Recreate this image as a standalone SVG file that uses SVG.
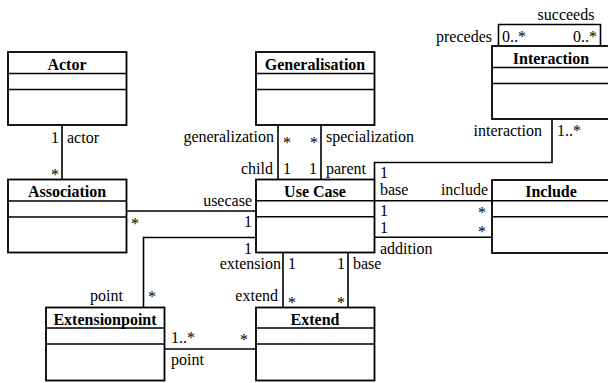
<svg xmlns="http://www.w3.org/2000/svg" width="608" height="383" viewBox="0 0 608 383">
<style>
.box{fill:#fff;stroke:#000;stroke-width:1.8}
.sep{stroke:#000;stroke-width:1.6}
.con{fill:none;stroke:#000;stroke-width:1.6}
.t{font-weight:bold;text-anchor:middle}
.m{text-anchor:middle}
.e{text-anchor:end}
</style>
<rect width="608" height="383" fill="#fff"/>
<g font-family="Liberation Serif, Times New Roman, Times, DejaVu Serif, serif" font-size="16" fill="#000">
<g id="connectors">
<path class="con" d="M62 125V179.5"/>
<path class="con" d="M278 125V179.5"/>
<path class="con" d="M321 125V179.5"/>
<path class="con" d="M126.5 211H256"/>
<path class="con" d="M256 237.5H143.5V307.5"/>
<path class="con" d="M552 119V162.5H374.5V179.5"/>
<path class="con" d="M374.5 200.7H492"/>
<path class="con" d="M374.5 237.3H492"/>
<path class="con" d="M283 252.5V307.5"/>
<path class="con" d="M348 252.5V307.5"/>
<path class="con" d="M164.5 349H256"/>
<path class="con" d="M498.5 46V24.5H600.5V46"/>
<text x="55" y="143" class="m">1</text><text x="67" y="143">actor</text>
<text x="55" y="180" class="m">*</text>
<text x="274" y="142" class="e">generalization</text>
<text x="287" y="147.5" class="m">*</text><text x="314" y="147.5" class="m">*</text>
<text x="326" y="142">specialization</text>
<text x="273" y="173.5" class="e">child</text>
<text x="287" y="173.5" class="m">1</text><text x="313" y="173.5" class="m">1</text>
<text x="326" y="173.5">parent</text>
<text x="542" y="135.5" class="e">interaction</text><text x="557" y="135.5">1..*</text>
<text x="380" y="178">1</text>
<text x="380" y="195">base</text><text x="488" y="195" class="e">include</text>
<text x="380" y="216">1</text><text x="482" y="217.5" class="m">*</text>
<text x="380" y="232.5">1</text><text x="482" y="236.5" class="m">*</text>
<text x="380" y="253.5">addition</text>
<text x="252" y="206" class="e">usecase</text>
<text x="135" y="228.5" class="m">*</text><text x="252" y="227" class="e">1</text>
<text x="252" y="253.5" class="e">1</text>
<text x="123" y="301" class="e">point</text><text x="152" y="301.5" class="m">*</text>
<text x="281" y="269" class="e">extension</text>
<text x="292" y="269" class="m">1</text><text x="341" y="269" class="m">1</text>
<text x="353" y="269">base</text>
<text x="278" y="301" class="e">extend</text>
<text x="292" y="308" class="m">*</text><text x="341" y="308" class="m">*</text>
<text x="171" y="343">1..*</text><text x="244" y="345" class="m">*</text>
<text x="171" y="364.5">point</text>
<text x="566" y="19.5" class="m">succeeds</text>
<text x="492" y="41.5" class="e">precedes</text>
<text x="502" y="41.5">0..*</text><text x="597" y="41.5" class="e">0..*</text>
</g>
<g id="actor"><rect class="box" x="8" y="52" width="118.5" height="73"/><path class="sep" d="M8 73.5H126.5M8 89.5H126.5"/><text x="67" y="69.5" class="t">Actor</text></g>
<g id="generalisation"><rect class="box" x="256" y="52" width="118.5" height="73"/><path class="sep" d="M256 73.5H374.5M256 89.5H374.5"/><text x="315" y="69.5" class="t">Generalisation</text></g>
<g id="interaction"><rect class="box" x="492" y="46" width="118" height="73"/><path class="sep" d="M492 67.5H610M492 83.5H610"/><text x="551" y="63.5" class="t">Interaction</text></g>
<g id="association"><rect class="box" x="8" y="179.5" width="118.5" height="73"/><path class="sep" d="M8 201H126.5M8 217H126.5"/><text x="67" y="197" class="t">Association</text></g>
<g id="usecase"><rect class="box" x="256" y="179.5" width="118.5" height="73"/><path class="sep" d="M256 200.7H374.5M256 216.7H374.5"/><text x="315" y="197" class="t">Use Case</text></g>
<g id="include"><rect class="box" x="492" y="180" width="118" height="73"/><path class="sep" d="M492 200.7H610M492 216.7H610"/><text x="551" y="197" class="t">Include</text></g>
<g id="extensionpoint"><rect class="box" x="46" y="307.5" width="118.5" height="73"/><path class="sep" d="M46 328H164.5M46 344H164.5"/><text x="105" y="324.5" class="t">Extensionpoint</text></g>
<g id="extend"><rect class="box" x="256" y="307.5" width="118.5" height="73"/><path class="sep" d="M256 328H374.5M256 344H374.5"/><text x="315" y="324.5" class="t">Extend</text></g>
</g>
</svg>
